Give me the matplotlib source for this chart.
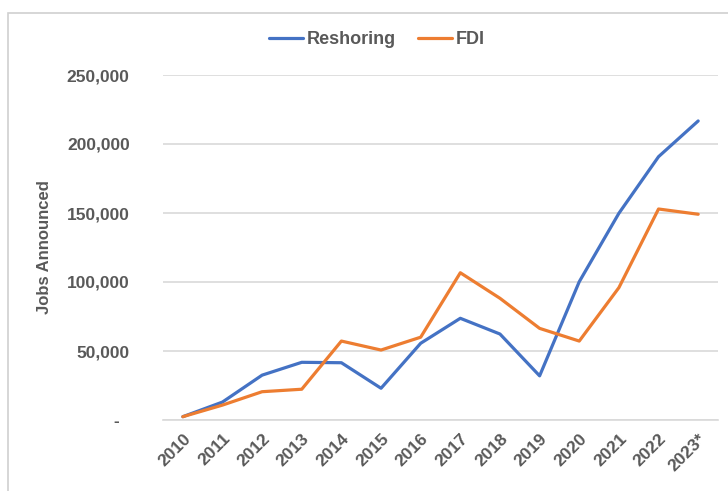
import matplotlib.pyplot as plt
from matplotlib.patches import Rectangle
from matplotlib.ticker import FuncFormatter

years = ["2010", "2011", "2012", "2013", "2014", "2015", "2016",
         "2017", "2018", "2019", "2020", "2021", "2022", "2023*"]
reshoring = [2400, 13000, 32500, 41800, 41500, 23000, 55600,
             73700, 62300, 32000, 100200, 149800, 190800, 216700]
fdi = [2400, 10800, 20500, 22300, 57200, 50700, 60000,
       106700, 88200, 66400, 57200, 95900, 152900, 149100]

grey = "#595959"
plt.rcParams['font.family'] = ['Liberation Sans', 'DejaVu Sans']

fig = plt.figure(figsize=(7.28, 4.91), dpi=100)
ax = fig.add_axes([163 / 728, 1 - 420 / 491, 555 / 728, 345 / 491])

x = list(range(len(years)))
ax.plot(x, reshoring, color="#4472C4", lw=2.3, label="Reshoring", solid_capstyle="round")
ax.plot(x, fdi, color="#ED7D31", lw=2.3, label="FDI", solid_capstyle="round")

ax.set_xlim(-0.5, len(years) - 0.5)
ax.set_ylim(0, 250000)
ax.set_yticks(range(0, 250001, 50000))
ax.yaxis.set_major_formatter(FuncFormatter(lambda v, p: "-  " if v == 0 else f"{int(v):,}"))
ax.grid(axis="y", color="#D9D9D9", lw=1.2)
ax.set_axisbelow(True)
for s in ["top", "right", "left"]:
    ax.spines[s].set_visible(False)
ax.spines["bottom"].set_color("#D9D9D9")
ax.spines["bottom"].set_linewidth(1.2)

ax.set_xticks(x)
ax.set_xticklabels(years, rotation=45, ha="right", rotation_mode="anchor")
ax.tick_params(axis="both", length=0, labelsize=12.5, labelcolor=grey)
ax.tick_params(axis="y", pad=24)
ax.tick_params(axis="x", pad=8)
for lbl in ax.get_xticklabels() + ax.get_yticklabels():
    lbl.set_fontweight("bold")

fig.text(45 / 728, 1 - 247 / 491, "Jobs Announced", rotation=90, ha="center", va="center",
         fontsize=12, fontweight="bold", color=grey)

leg = ax.legend(loc="center", bbox_to_anchor=(377 / 728, 1 - 40 / 491),
                bbox_transform=fig.transFigure, ncol=2, frameon=False,
                prop={"size": 13, "weight": "bold"}, handlelength=1.9,
                columnspacing=1.2, handletextpad=0.2)
for t in leg.get_texts():
    t.set_color(grey)

fig.patches.append(Rectangle((8 / 728, -0.1), 1.2, 1 - 13 / 491 + 0.1, transform=fig.transFigure,
                             fill=False, edgecolor="#D0D0D0", lw=1.2))

fig.savefig("out.png", dpi=100)
